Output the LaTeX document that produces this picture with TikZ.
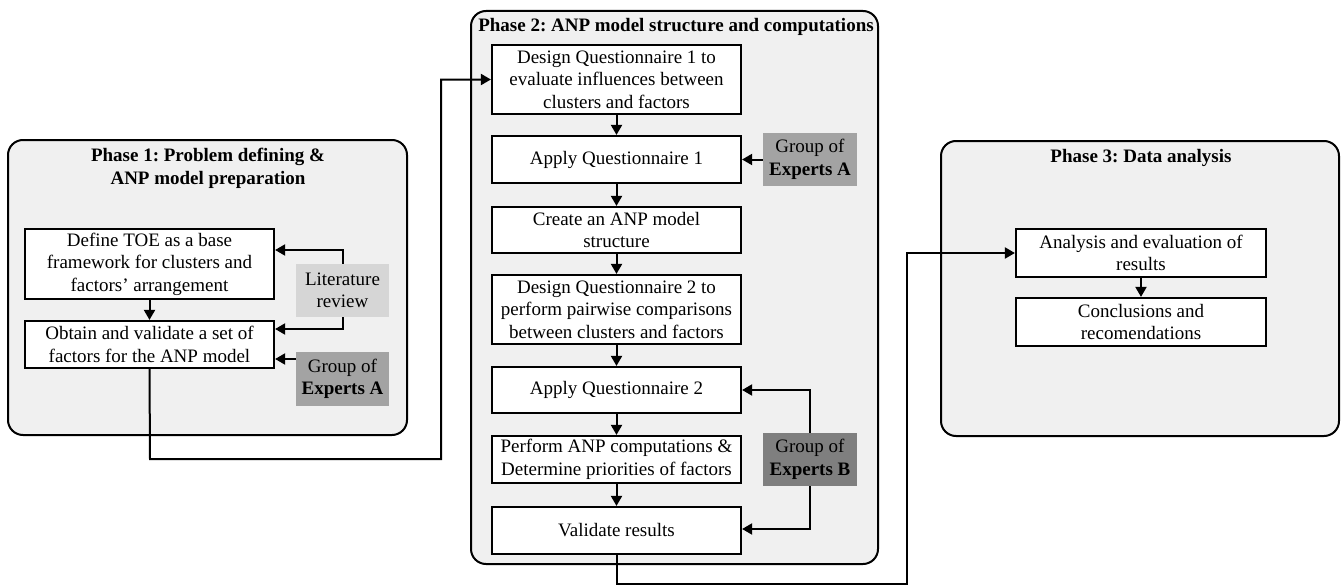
\documentclass[tikz,border=0pt]{standalone}
\usepackage{fontspec}
\setmainfont{Liberation Serif}
\usetikzlibrary{arrows.meta}
\frenchspacing
\definecolor{phasefill}{HTML}{F0F0F0}
\definecolor{litgray}{HTML}{D6D6D6}
\definecolor{expagray}{HTML}{A3A3A3}
\definecolor{expbgray}{HTML}{7F7F7F}
\tikzset{
  phase/.style={draw=black, line width=2pt, fill=phasefill, rounded corners=15pt, inner sep=0pt},
  stepbox/.style={draw=black, line width=2.2pt, fill=white, inner sep=0pt, align=center,
    font=\fontsize{19}{22.5}\selectfont},
  srcbox/.style={inner sep=0pt, align=center, font=\fontsize{19}{22.5}\selectfont},
  title/.style={align=center, font=\fontsize{19}{22.5}\selectfont\bfseries, inner sep=0pt},
  arr/.style={line width=2pt, -{Triangle[length=10pt,width=11pt]}},
}
\begin{document}
\begin{tikzpicture}[x=1pt, y=-1pt]
\useasboundingbox (0,0) rectangle (1341,586);

% phase containers
\node[phase, minimum width=399pt, minimum height=295pt] (ph1) at (207.5,287.5) {};
\node[phase, minimum width=407pt, minimum height=553pt] (ph2) at (674.5,287.5) {};
\node[phase, minimum width=398pt, minimum height=295pt] (ph3) at (1140,288.5) {};

\node[title] (t1) at (208,168.5) {Phase 1: Problem defining \&\\ANP model preparation};
\node[title] (t2) at (676,27) {Phase 2: ANP model structure and computations};
\node[title] (t3) at (1141,158) {Phase 3: Data analysis};

% phase 1
\node[stepbox, minimum width=249pt, minimum height=70pt] (a1) at (149.5,264)
  {Define TOE as a base\\framework for clusters and\\factors’ arrangement};
\node[stepbox, minimum width=249pt, minimum height=47pt] (a2) at (149.5,344.5)
  {Obtain and validate a set of\\factors for the ANP model};
\node[srcbox, fill=litgray, minimum width=93pt, minimum height=53pt] (lit) at (342.5,290.5)
  {Literature\\review};
\node[srcbox, fill=expagray, minimum width=93pt, minimum height=54pt] (ea1) at (342.5,379)
  {Group of\\\textbf{Experts A}};

% phase 2
\node[stepbox, minimum width=249pt, minimum height=69pt] (b1) at (616.5,79.5)
  {Design Questionnaire 1 to\\evaluate influences between\\clusters and factors};
\node[stepbox, minimum width=249pt, minimum height=47pt] (b2) at (616.5,159.5)
  {Apply Questionnaire 1};
\node[stepbox, minimum width=249pt, minimum height=46pt] (b3) at (616.5,230)
  {Create an ANP model\\structure};
\node[stepbox, minimum width=249pt, minimum height=69pt] (b4) at (616.5,309.5)
  {Design Questionnaire 2 to\\perform pairwise comparisons\\between clusters and factors};
\node[stepbox, minimum width=249pt, minimum height=46pt] (b5) at (616.5,390)
  {Apply Questionnaire 2};
\node[stepbox, minimum width=249pt, minimum height=47pt] (b6) at (616.5,459.5)
  {Perform ANP computations \&\\Determine priorities of factors};
\node[stepbox, minimum width=249pt, minimum height=47pt] (b7) at (616.5,530.5)
  {Validate results};
\node[srcbox, fill=expagray, minimum width=94pt, minimum height=53pt] (ea2) at (810,159.5)
  {Group of\\\textbf{Experts A}};
\node[srcbox, fill=expbgray, minimum width=94pt, minimum height=53pt] (eb) at (810,459.5)
  {Group of\\\textbf{Experts B}};

% phase 3
\node[stepbox, minimum width=250pt, minimum height=48pt] (c1) at (1141,253)
  {Analysis and evaluation of\\results};
\node[stepbox, minimum width=250pt, minimum height=48pt] (c2) at (1141,322)
  {Conclusions and\\recomendations};

% turning points of the routed connectors
\coordinate (l1) at (342.5,250);
\coordinate (l2) at (342.5,329);
\coordinate (p1) at (150,459);
\coordinate (p2) at (441,459);
\coordinate (r1) at (810,390);
\coordinate (r2) at (810,529);
\coordinate (q1) at (616.5,584);
\coordinate (q2) at (907,584);

% connectors, phase 1
\draw[arr] (a1) -- (a2);
\draw[arr] (lit.north) -- (l1) -- (a1.east |- l1);
\draw[arr] (lit.south) -- (l2) -- (a2.east |- l2);
\draw[arr] (ea1.west |- 0,359) -- (a2.east |- 0,359);
\draw[arr] (a2.south) -- (p1) -- (p2) -- (p2 |- b1.west) -- (b1.west);

% connectors, phase 2
\draw[arr] (b1) -- (b2);
\draw[arr] (b2) -- (b3);
\draw[arr] (b3) -- (b4);
\draw[arr] (b4) -- (b5);
\draw[arr] (b5) -- (b6);
\draw[arr] (b6) -- (b7);
\draw[arr] (ea2.west) -- (b2.east);
\draw[arr] (eb.north) -- (r1) -- (b5.east |- r1);
\draw[arr] (eb.south) -- (r2) -- (b7.east |- r2);
\draw[arr] (b7.south) -- (q1) -- (q2) -- (q2 |- c1.west) -- (c1.west);

% connectors, phase 3
\draw[arr] (c1) -- (c2);
\end{tikzpicture}
\end{document}
